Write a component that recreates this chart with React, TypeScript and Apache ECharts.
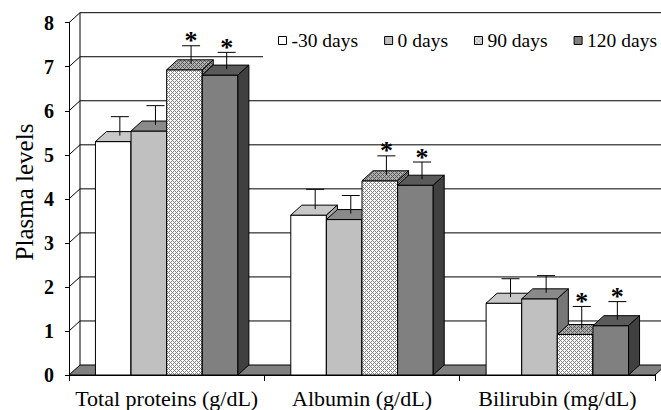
import React, { useEffect, useRef } from 'react';
import * as echarts from 'echarts';

const categories = ['Total proteins (g/dL)', 'Albumin (g/dL)', 'Bilirubin (mg/dL)'];
const seriesNames = ['-30 days', '0 days', '90 days', '120 days'];
const valuesMinus30 = [5.3, 3.63, 1.63];
const values0 = [5.54, 3.53, 1.73];
const values90 = [6.93, 4.41, 0.92];
const values120 = [6.81, 4.31, 1.12];
const errMinus30 = [0.43, 0.45, 0.42];
const err0 = [0.44, 0.41, 0.39];
const err90 = [0.41, 0.43, 0.5];
const err120 = [0.38, 0.39, 0.41];
const sigMinus30 = [false, false, false];
const sig0 = [false, false, false];
const sig90 = [true, true, true];
const sig120 = [true, true, true];
const yTicks = [0, 1, 2, 3, 4, 5, 6, 7, 8];
const yAxisTitle = 'Plasma levels';

const W = 661;
const H = 410;
const DX = 11;
const DY = 10;
const BAR_FRAC = 0.1823;
const ERR_DEPTH = 0.6;
const CAP_HALF = 9;
const FONT = 'Liberation Serif';

function makePattern(bg: string, fg: string) {
  const c = document.createElement('canvas');
  c.width = 4;
  c.height = 4;
  const ctx = c.getContext('2d')!;
  ctx.fillStyle = bg;
  ctx.fillRect(0, 0, 4, 4);
  ctx.fillStyle = fg;
  for (let x = 0; x < 4; x++) {
    for (let y = 0; y < 4; y++) {
      if ((x + y) % 4 === 0 || (x - y + 4) % 4 === 0) ctx.fillRect(x, y, 1, 1);
    }
  }
  return { image: c.toDataURL(), repeat: 'repeat', imageWidth: 4, imageHeight: 4 } as any;
}

export default function App() {
  const ref = useRef<HTMLDivElement>(null);
  useEffect(() => {
    if (!ref.current) return;
    document.body.style.margin = '0';
    const chart = echarts.init(ref.current, undefined, { renderer: 'svg' });

    const checkFront = makePattern('#ffffff', '#808080');
    const checkTop = makePattern('#b0b0b0', '#5a5a5a');
    const checkSide = makePattern('#909090', '#404040');

    const allValues = [valuesMinus30, values0, values90, values120];
    const allErr = [errMinus30, err0, err90, err120];
    const allSig = [sigMinus30, sig0, sig90, sig120];
    const faces = [
      { front: '#ffffff', top: '#c8c8c8', side: '#a8a8a8' },
      { front: '#c0c0c0', top: '#8a8a8a', side: '#777777' },
      { front: checkFront, top: checkTop, side: checkSide },
      { front: '#808080', top: '#5a5a5a', side: '#404040' },
    ];

    const barGeom = (api: any, ci: number, k: number, v: number) => {
      const c = api.coord([ci, v]);
      const base = api.coord([ci, 0]);
      const catW = api.size([1, 0])[0];
      const bw = catW * BAR_FRAC;
      const left = c[0] - 2 * bw + k * bw;
      return { left, bw, top: c[1], bottom: base[1] };
    };

    const barSeries = seriesNames.map((name, k) => ({
      name,
      type: 'custom',
      z: 2,
      coordinateSystem: 'cartesian2d',
      itemStyle: { color: faces[k].front, borderColor: '#000', borderWidth: 1 },
      encode: { x: 0, y: 1 },
      data: categories.map((_, i) => [i, allValues[k][i]]),
      renderItem: (params: any, api: any) => {
        const ci = api.value(0);
        const v = api.value(1);
        const g = barGeom(api, ci, k, v);
        const { left, bw, top, bottom } = g;
        const f = faces[k];
        return {
          type: 'group',
          children: [
            {
              type: 'rect',
              shape: { x: left, y: top, width: bw, height: bottom - top },
              style: { fill: f.front, stroke: '#000', lineWidth: 1 },
            },
            {
              type: 'polygon',
              shape: { points: [[left, top], [left + bw, top], [left + bw + DX, top - DY], [left + DX, top - DY]] },
              style: { fill: f.top, stroke: '#000', lineWidth: 1 },
            },
            {
              type: 'polygon',
              shape: { points: [[left + bw, top], [left + bw + DX, top - DY], [left + bw + DX, bottom - DY], [left + bw, bottom]] },
              style: { fill: f.side, stroke: '#000', lineWidth: 1 },
            },
          ],
        };
      },
    }));

    const errData: number[][] = [];
    for (let k = 0; k < 4; k++) {
      for (let i = 0; i < categories.length; i++) {
        errData.push([i, allValues[k][i], allErr[k][i], k, allSig[k][i] ? 1 : 0]);
      }
    }

    const errSeries = {
      name: 'errors',
      type: 'custom',
      z: 3,
      coordinateSystem: 'cartesian2d',
      encode: { x: 0, y: 1 },
      data: errData,
      renderItem: (params: any, api: any) => {
        const ci = api.value(0);
        const v = api.value(1);
        const e = api.value(2);
        const k = api.value(3);
        const sig = api.value(4);
        const g = barGeom(api, ci, k, v);
        const cx = g.left + g.bw / 2 + DX * ERR_DEPTH;
        const y1 = g.top - DY * ERR_DEPTH;
        const y2 = api.coord([ci, v + e])[1] - DY * ERR_DEPTH;
        const children: any[] = [
          { type: 'line', shape: { x1: cx, y1, x2: cx, y2 }, style: { stroke: '#000', lineWidth: 1 } },
          { type: 'line', shape: { x1: cx - CAP_HALF, y1: y2, x2: cx + CAP_HALF, y2 }, style: { stroke: '#000', lineWidth: 1 } },
        ];
        if (sig) {
          children.push({
            type: 'text',
            x: cx,
            y: y2 - 5,
            style: {
              text: '*',
              fill: '#000',
              font: 'bold 26px ' + FONT,
              textAlign: 'center',
              textVerticalAlign: 'middle',
            },
          });
        }
        return { type: 'group', children };
      },
    };

    const frameSeries = {
      name: 'frame',
      type: 'custom',
      z: 1,
      coordinateSystem: 'cartesian2d',
      encode: { x: 0, y: 1 },
      data: yTicks.map((v) => [0, v]),
      renderItem: (params: any, api: any) => {
        const v = api.value(1);
        const cs = params.coordSys;
        const x0 = cs.x;
        const x1 = cs.x + cs.width;
        const y = api.coord([0, v])[1];
        const children: any[] = [];
        if (v === 0) {
          const yTop = api.coord([0, yTicks[yTicks.length - 1]])[1];
          children.push({
            type: 'polygon',
            shape: { points: [[x0, y], [x1, y], [x1 + DX, y - DY], [x0 + DX, y - DY]] },
            style: { fill: '#808080', stroke: '#000', lineWidth: 1 },
          });
          children.push({
            type: 'line',
            shape: { x1: x0 + DX, y1: y - DY, x2: x0 + DX, y2: yTop - DY },
            style: { stroke: '#000', lineWidth: 1 },
          });
        } else {
          children.push({
            type: 'line',
            shape: { x1: x0, y1: y, x2: x0 + DX, y2: y - DY },
            style: { stroke: '#000', lineWidth: 1 },
          });
          children.push({
            type: 'line',
            shape: { x1: x0 + DX, y1: y - DY, x2: x1 + DX, y2: y - DY },
            style: { stroke: '#000', lineWidth: 1 },
          });
        }
        return { type: 'group', children };
      },
    };

    chart.setOption({
      animation: false,
      backgroundColor: '#ffffff',
      textStyle: { fontFamily: FONT },
      grid: { left: 69, right: 6, top: 22.7, bottom: 35, containLabel: false },
      legend: {
        data: seriesNames.map((n, k) => ({
          name: n,
          icon: 'rect',
          itemStyle: { color: faces[k].front, borderColor: '#000', borderWidth: 1 },
        })),
        left: 278,
        top: 30.5,
        padding: 0,
        itemWidth: 8,
        itemHeight: 8,
        itemGap: 26,
        selectedMode: false,
        textStyle: { fontFamily: FONT, fontSize: 19.5, color: '#000' },
      },
      xAxis: {
        type: 'category',
        data: categories,
        boundaryGap: true,
        axisLine: { show: true, lineStyle: { color: '#000', width: 1 } },
        axisTick: { show: true, length: 6, lineStyle: { color: '#000' } },
        axisLabel: { interval: 0, margin: 12, color: '#000', fontFamily: FONT, fontSize: 22 },
        splitLine: { show: false },
      },
      yAxis: {
        type: 'value',
        min: 0,
        max: 8,
        interval: 1,
        axisLine: { show: true, lineStyle: { color: '#000', width: 1 } },
        axisTick: { show: true, length: 4, lineStyle: { color: '#000' } },
        axisLabel: { margin: 15, color: '#000', fontFamily: FONT, fontSize: 20, fontWeight: 'bold' },
        splitLine: { show: false },
      },
      graphic: [
        {
          type: 'rect',
          z: 3,
          shape: { x: 263, y: 14, width: 400, height: 80 },
          style: { fill: '#ffffff' },
        },
        {
          type: 'text',
          z: 5,
          x: 24,
          y: 192,
          rotation: Math.PI / 2,
          style: {
            text: yAxisTitle,
            fill: '#000',
            font: '25px ' + FONT,
            textAlign: 'center',
            textVerticalAlign: 'middle',
          },
        },
      ],
      series: [frameSeries, ...barSeries, errSeries] as any,
    });
    return () => chart.dispose();
  }, []);
  return <div ref={ref} style={{ position: 'absolute', left: 0, top: 0, width: W, height: H }} />;
}
